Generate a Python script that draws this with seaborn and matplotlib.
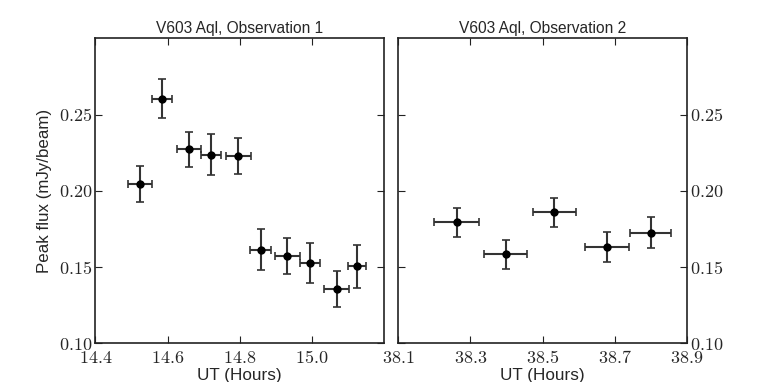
import numpy as np
import pandas as pd
import matplotlib
matplotlib.use("Agg")
import matplotlib.pyplot as plt
import seaborn as sns
from matplotlib.ticker import FixedLocator, FuncFormatter

# Observation 1
t1 = [14.524, 14.584, 14.660, 14.721, 14.796, 14.858, 14.932, 14.994, 15.068, 15.124]
t1_err = [0.033, 0.028, 0.033, 0.028, 0.034, 0.029, 0.034, 0.028, 0.034, 0.025]
f1 = [0.2043, 0.2605, 0.2272, 0.2237, 0.2228, 0.1614, 0.1574, 0.1526, 0.1355, 0.1504]
f1_err = [0.0117, 0.0126, 0.0115, 0.0134, 0.0120, 0.0133, 0.0118, 0.0133, 0.0120, 0.0141]

# Observation 2
t2 = [38.262, 38.398, 38.533, 38.679, 38.800]
t2_err = [0.061, 0.060, 0.060, 0.061, 0.057]
f2 = [0.1793, 0.1585, 0.1859, 0.1634, 0.1726]
f2_err = [0.0095, 0.0095, 0.0094, 0.0098, 0.0100]

titles = ["V603 Aql, Observation 1", "V603 Aql, Observation 2"]
xticks1 = [14.4, 14.6, 14.8, 15.0]
xticks2 = [38.1, 38.3, 38.5, 38.7, 38.9]
yticks = [0.10, 0.15, 0.20, 0.25]

sns.set_theme(style="ticks")
plt.rcParams['font.family'] = ['Liberation Sans', 'DejaVu Sans']
plt.rcParams['mathtext.fontset'] = 'cm'

W, H = 763, 382
fig = plt.figure(figsize=(W / 100, H / 100), dpi=100)
ax1 = fig.add_axes([95.3 / W, (H - 343.3) / H, 289 / W, 305 / H])
ax2 = fig.add_axes([398 / W, (H - 343.3) / H, 289 / W, 305 / H])

df1 = pd.DataFrame({"t": t1, "f": f1})
df2 = pd.DataFrame({"t": t2, "f": f2})

for ax, df, te, fe, xt, xl, title in [
    (ax1, df1, t1_err, f1_err, xticks1, (14.4, 15.2), titles[0]),
    (ax2, df2, t2_err, f2_err, xticks2, (38.1, 38.9), titles[1]),
]:
    ax.errorbar(df["t"], df["f"], xerr=te, yerr=fe, fmt="none",
                ecolor="#333333", elinewidth=1.5, capsize=3, capthick=1.2, zorder=2)
    sns.scatterplot(data=df, x="t", y="f", ax=ax, color="black", s=36,
                    edgecolor="black", linewidth=0, zorder=3)
    ax.set_xlim(*xl)
    ax.set_ylim(0.10, 0.30)
    ax.xaxis.set_major_locator(FixedLocator(xt))
    ax.yaxis.set_major_locator(FixedLocator(yticks))
    ax.xaxis.set_major_formatter(FuncFormatter(lambda v, p: r"$%.1f$" % v))
    ax.yaxis.set_major_formatter(FuncFormatter(lambda v, p: r"$%.2f$" % v))
    ax.tick_params(direction="in", length=5, width=0.8, top=True, right=True,
                   labelsize=13, pad=2, color="#222222")
    ax.tick_params(axis="x", pad=4.5)
    for s in ax.spines.values():
        s.set_linewidth(1.2)
        s.set_color("#222222")
    ax.set_title(title, fontsize=11.2, pad=4)
    ax.set_xlabel("UT (Hours)", fontsize=12.3, labelpad=1)
    ax.set_ylabel("")

ax1.set_ylabel("Peak flux (mJy/beam)", fontsize=12.2, labelpad=5)
ax2.yaxis.tick_right()
ax2.tick_params(left=True, right=True, labelleft=False, labelright=True)

fig.savefig("out.png", dpi=100)
